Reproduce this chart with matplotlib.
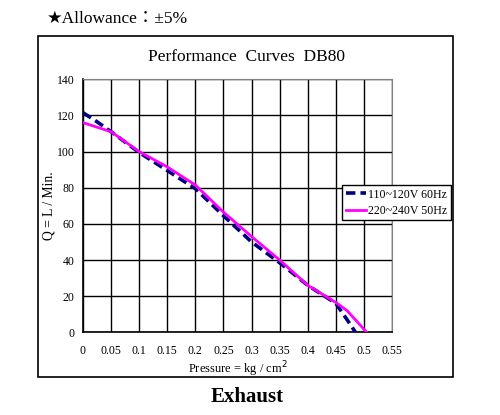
import matplotlib.pyplot as plt
from matplotlib.patches import Rectangle
import numpy as np

# Data
p_60hz = [0, 0.025, 0.05, 0.1, 0.15, 0.2, 0.25, 0.3, 0.35, 0.4, 0.45, 0.47, 0.485]
q_60hz = [121.5, 116.5, 111, 99.5, 89.5, 79.5, 64.5, 50, 38.5, 26, 16, 7, 0]
p_50hz = [0, 0.05, 0.1, 0.15, 0.2, 0.25, 0.3, 0.35, 0.4, 0.45, 0.47, 0.505]
q_50hz = [116, 111, 100, 91.5, 81.5, 66.5, 53, 40, 26, 16.5, 12, 0]
x_ticks = [0, 0.05, 0.1, 0.15, 0.2, 0.25, 0.3, 0.35, 0.4, 0.45, 0.5, 0.55]
x_labels = ['0', '0.05', '0.1', '0.15', '0.2', '0.25', '0.3', '0.35', '0.4', '0.45', '0.5', '0.55']
y_ticks = [0, 20, 40, 60, 80, 100, 120, 140]

serif = ['Liberation Serif', 'DejaVu Serif']
sym = ['Liberation Serif', 'DejaVu Sans', 'Noto Sans CJK JP']

fig = plt.figure(figsize=(5.0, 4.15), dpi=100)
ax = fig.add_axes([0.166, 0.1993, 0.618, 0.6096])

# outer frame
fig.patches.append(Rectangle((38 / 500, 1 - 377 / 415), (453 - 38) / 500, (377 - 36) / 415,
                             transform=fig.transFigure, fill=False, edgecolor='black', lw=1.2))

ax.plot(p_60hz, q_60hz, color='#000080', lw=2.6, dashes=(2.6, 1.4), label='110~120V 60Hz', zorder=3)
ax.plot(p_50hz, q_50hz, color='#ff00ff', lw=2.0, label='220~240V 50Hz', zorder=4)

ax.set_xlim(0, 0.55)
ax.set_ylim(0, 140)
ax.set_xticks(x_ticks)
ax.set_xticklabels(x_labels)
ax.set_yticks(y_ticks)
ax.grid(True, color='black', lw=1.0)
ax.set_axisbelow(True)
ax.tick_params(axis='x', length=0, labelsize=8.5, pad=9)
ax.tick_params(axis='y', length=0, labelsize=8.5, pad=6)
for lab in ax.get_xticklabels() + ax.get_yticklabels():
    lab.set_family(serif)
ax.spines['top'].set_color('#808080')
ax.spines['right'].set_color('#808080')
ax.spines['left'].set_linewidth(1.2)
ax.spines['bottom'].set_linewidth(1.2)

ax.set_xlabel('Pressure = kg / cm$^2$', family=serif, fontsize=9, labelpad=2)
ax.set_ylabel('Q = L / Min.', family=serif, fontsize=9.8, labelpad=1)

fig.text(246 / 500, 1 - 57 / 415, 'Performance  Curves  DB80', family=serif, fontsize=12.5,
         ha='center', va='center')
fig.text(47 / 500, 1 - 19 / 415, '★Allowance：±5%', family=sym, fontsize=12.5,
         ha='left', va='center')
fig.text(247 / 500, 1 - 397 / 415, 'Exhaust', family=serif, fontsize=15, fontweight='bold',
         ha='center', va='center')

leg = ax.legend(loc='upper left', bbox_to_anchor=(342 / 500, 1 - 185 / 415),
                bbox_transform=fig.transFigure, borderaxespad=0, fancybox=False,
                framealpha=1, edgecolor='black', prop={'family': serif, 'size': 8.6},
                handlelength=1.7, handletextpad=0.2, borderpad=0.3, labelspacing=0.35)
leg.get_frame().set_linewidth(1.0)

plt.savefig('out.png', dpi=100)
